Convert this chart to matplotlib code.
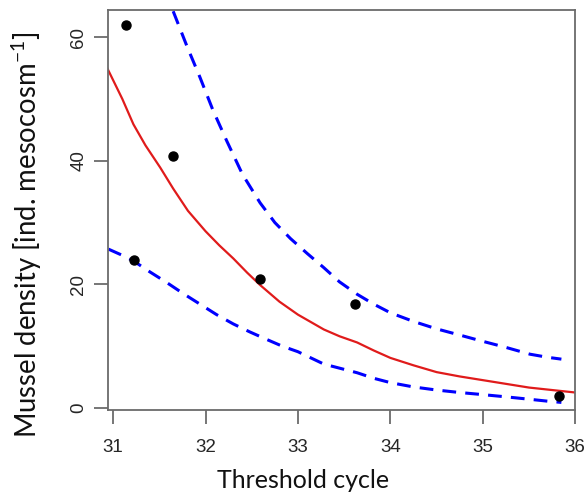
import matplotlib.pyplot as plt

plt.rcParams["font.family"] = ["Liberation Sans", "DejaVu Sans"]

# observed mussel density vs threshold cycle
obs_cycle = [31.14, 31.23, 31.65, 32.59, 33.62, 35.82]
obs_density = [61.9, 24.0, 40.8, 20.9, 16.9, 1.9]

# fitted curve (red)
fit_cycle = [30.93, 31.1, 31.22, 31.35, 31.51, 31.65, 31.81, 32.0, 32.15,
             32.3, 32.45, 32.59, 32.8, 33.0, 33.28, 33.45, 33.64, 33.82, 34.0,
             34.25, 34.5, 34.75, 35.0, 35.25, 35.5, 35.75, 36.0]
fit_density = [55.2, 50.0, 45.9, 42.5, 38.9, 35.5, 31.9, 28.6, 26.3,
               24.2, 21.9, 19.9, 17.2, 15.1, 12.7, 11.6, 10.6, 9.3, 8.1,
               6.9, 5.8, 5.1, 4.5, 3.9, 3.3, 2.9, 2.5]

# confidence band (blue dashed)
upper_cycle = [31.65, 31.8, 31.94, 32.08, 32.23, 32.4, 32.59, 32.75, 32.92,
               33.1, 33.28, 33.45, 33.64, 33.82, 34.0, 34.25, 34.5, 34.75,
               34.97, 35.25, 35.51, 35.7, 35.85]
upper_density = [64.2, 58.5, 53.5, 48.2, 43.2, 37.8, 33.2, 30.0, 27.4,
                 25.0, 22.7, 20.4, 18.4, 16.8, 15.4, 14.0, 12.8, 11.8,
                 10.9, 9.8, 8.7, 8.2, 7.9]
lower_cycle = [30.95, 31.1, 31.22, 31.4, 31.58, 31.76, 31.94, 32.12, 32.3,
               32.48, 32.66, 32.83, 33.0, 33.14, 33.28, 33.46, 33.64, 33.82,
               34.0, 34.25, 34.5, 34.75, 34.97, 35.25, 35.51, 35.7, 35.85]
lower_density = [25.7, 24.7, 23.8, 22.0, 20.3, 18.5, 16.8, 15.1, 13.6,
                 12.3, 11.1, 10.0, 9.1, 8.1, 7.1, 6.4, 5.7, 4.8,
                 4.1, 3.4, 2.9, 2.5, 2.2, 1.8, 1.4, 1.1, 0.9]

x_ticks = [31, 32, 33, 34, 35, 36]
y_ticks = [0, 20, 40, 60]

fig = plt.figure(figsize=(5.87, 5.0), dpi=100)
ax = fig.add_axes([0.184, 0.18, 0.796, 0.80])

ax.plot(fit_cycle, fit_density, color="#e01b1b", lw=1.6)
ax.plot(upper_cycle, upper_density, color="#0000ff", lw=2.2, dashes=(4.5, 3))
ax.plot(lower_cycle, lower_density, color="#0000ff", lw=2.2, dashes=(4.5, 3))
ax.plot(obs_cycle, obs_density, "o", color="black", ms=6.5)

ax.set_xlim(30.945, 36.0)
ax.set_ylim(-0.33, 64.4)

box_col = "#6b6b6b"
for sp in ax.spines.values():
    sp.set_color(box_col)
    sp.set_linewidth(1.3)

ax.set_xticks(x_ticks)
ax.set_yticks(y_ticks)
ax.tick_params(direction="out", length=10, width=1.3, color=box_col,
               labelsize=13.5, labelcolor="#262626")
ax.tick_params(axis="x", pad=11)
ax.tick_params(axis="y", pad=5)
for lab in ax.get_yticklabels():
    lab.set_rotation(90)
    lab.set_va("center")

fig.text(0.516, 0.04, "Threshold cycle", family="Lato", fontsize=18,
         ha="center", va="center", color="#111111")
fig.text(0.045, 0.53, "Mussel density [ind. mesocosm$^{\\mathregular{-1}}$]",
         family="Lato", fontsize=19.8, rotation=90, ha="center", va="center",
         color="#111111")

fig.savefig("out.png", dpi=100)
